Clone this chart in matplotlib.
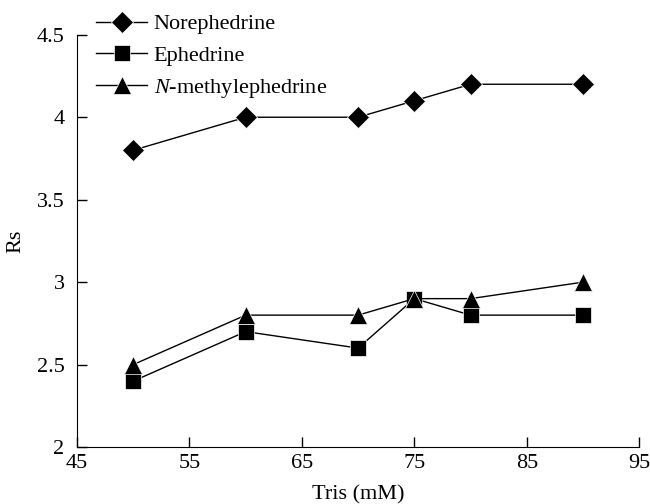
import matplotlib
matplotlib.use("Agg")
import matplotlib.pyplot as plt

plt.rcParams['font.family'] = ['Liberation Serif', 'DejaVu Serif']
plt.rcParams['mathtext.fontset'] = 'custom'
plt.rcParams['mathtext.it'] = 'Liberation Serif:italic'
plt.rcParams['mathtext.rm'] = 'Liberation Serif'

# data
tris = [50, 60, 70, 75, 80, 90]
norephedrine = [3.8, 4.0, 4.0, 4.1, 4.2, 4.2]
ephedrine = [2.4, 2.7, 2.6, 2.9, 2.8, 2.8]
n_methylephedrine = [2.5, 2.8, 2.8, 2.9, 2.9, 3.0]

fig = plt.figure(figsize=(6.5, 5.04), dpi=100)
ax = fig.add_axes([0.1185, 0.113, 0.865, 0.818])

style = dict(color='black', lw=1, mec='white', mew=0.5, mfc='black')
ax.plot(tris, norephedrine, marker='D', ms=11, label='Norephedrine', **style)
ax.plot(tris, ephedrine, marker='s', ms=11, label='Ephedrine', **style)
ax.plot(tris, n_methylephedrine, marker='^', ms=13, label=r'$N$-methylephedrine', **style)

ax.set_xlim(45, 95)
ax.set_ylim(2, 4.5)
ax.set_xticks([45, 55, 65, 75, 85, 95])
ax.set_yticks([2, 2.5, 3, 3.5, 4, 4.5])
ax.set_yticklabels(['2', '2.5', '3', '3.5', '4', '4.5'])
ax.spines['top'].set_visible(False)
ax.spines['right'].set_visible(False)
ax.tick_params(direction='in', length=7, width=1, labelsize=16)
ax.tick_params(axis='x', pad=5)
ax.tick_params(axis='y', pad=9)
ax.set_xlabel('Tris (mM)', fontsize=16, labelpad=9)
ax.set_ylabel('Rs', fontsize=16, labelpad=8)

ax.legend(loc='upper left', bbox_to_anchor=(0.134, 0.99), bbox_transform=fig.transFigure,
          frameon=False, fontsize=16, handlelength=2.3, handletextpad=0.3, labelspacing=0.5,
          borderaxespad=0)

fig.savefig('out.png', dpi=100)
